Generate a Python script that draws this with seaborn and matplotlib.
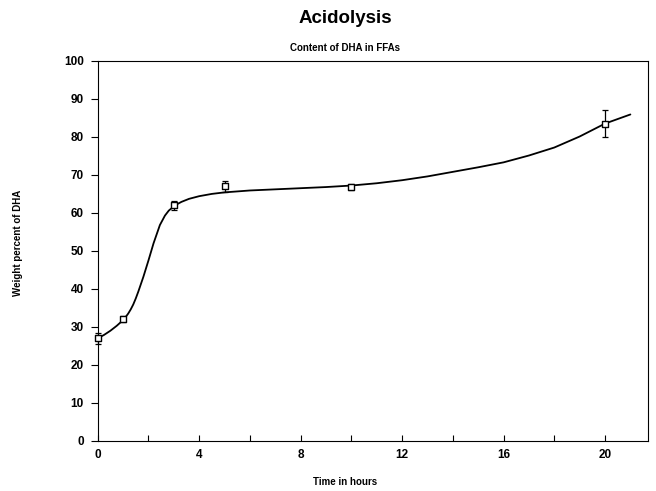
import numpy as np
import pandas as pd
import matplotlib
matplotlib.use("Agg")
import matplotlib.pyplot as plt
from matplotlib.ticker import MultipleLocator
import seaborn as sns

sns.set_theme(style="ticks")
plt.rcParams['font.family'] = ['Liberation Sans', 'DejaVu Sans']
plt.rcParams['text.color'] = 'black'
plt.rcParams['xtick.color'] = 'black'
plt.rcParams['ytick.color'] = 'black'

# measured points
time_h = [0, 1, 3, 5, 10, 20]
dha = [27.0, 32.0, 62.0, 67.0, 66.7, 83.5]
dha_err = [1.5, 0.8, 1.2, 1.5, 0.8, 3.5]

# fitted curve
curve_x = [0, 0.25, 0.5, 0.75, 1, 1.1, 1.2, 1.3, 1.4, 1.5, 1.6, 1.8, 2.0, 2.2, 2.45, 2.65,
           2.8, 3.05, 3.3, 3.6, 4.0, 4.5, 5, 6, 7, 8, 9, 10, 11, 12, 13, 14, 15, 16,
           17, 18, 19, 20, 21]
curve_y = [27.0, 27.9, 29.0, 30.3, 31.8, 32.6, 33.5, 34.6, 35.9, 37.5, 39.3, 43.2, 47.5,
           52.0, 56.8, 59.3, 60.6, 62.0, 62.9, 63.7, 64.4, 65.0, 65.4, 65.9, 66.2,
           66.5, 66.8, 67.2, 67.8, 68.6, 69.6, 70.8, 72.0, 73.3, 75.1, 77.2, 80.1,
           83.5, 85.9]

df_pts = pd.DataFrame({"Time": time_h, "DHA": dha})
df_fit = pd.DataFrame({"Time": curve_x, "DHA": curve_y})

fig = plt.figure(figsize=(6.56, 4.91), dpi=100)
ax = fig.add_axes([0.149, 0.102, 0.839, 0.774])

sns.lineplot(data=df_fit, x="Time", y="DHA", ax=ax, color="black", linewidth=1.3)
ax.errorbar(time_h, dha, yerr=dha_err, fmt="none", ecolor="black",
            elinewidth=0.9, capsize=2, capthick=0.9, clip_on=False)
sns.scatterplot(data=df_pts, x="Time", y="DHA", ax=ax, marker="s", s=20,
                facecolor="white", edgecolor="black", linewidth=1.0, zorder=5,
                clip_on=False)

ax.set_xlim(0, 21.7)
ax.set_ylim(0, 100)
ax.xaxis.set_major_locator(MultipleLocator(4))
ax.xaxis.set_minor_locator(MultipleLocator(2))
ax.yaxis.set_major_locator(MultipleLocator(10))
ax.tick_params(axis="x", which="both", direction="in", length=4, width=0.8,
               labelsize=8.5, pad=6)
ax.tick_params(axis="y", which="major", direction="out", length=5, width=0.8,
               labelsize=8.5, pad=5)
for lab in ax.get_xticklabels() + ax.get_yticklabels():
    lab.set_fontweight("bold")

for s in ax.spines.values():
    s.set_visible(True)
    s.set_color("black")
    s.set_linewidth(0.8)

ax.set_xlabel("")
ax.set_ylabel("")
fig.text(0.526, 0.009, "Time in hours", ha="center", va="bottom",
         fontsize=7, fontweight="bold")
fig.text(0.027, 0.505, "Weight percent of DHA", ha="center", va="center",
         rotation=90, fontsize=7, fontweight="bold")
fig.text(0.526, 0.963, "Acidolysis", ha="center", va="center",
         fontsize=13.5, fontweight="bold")
fig.text(0.526, 0.903, "Content of DHA in FFAs", ha="center", va="center",
         fontsize=7, fontweight="bold")

fig.savefig("out.png", dpi=100)
